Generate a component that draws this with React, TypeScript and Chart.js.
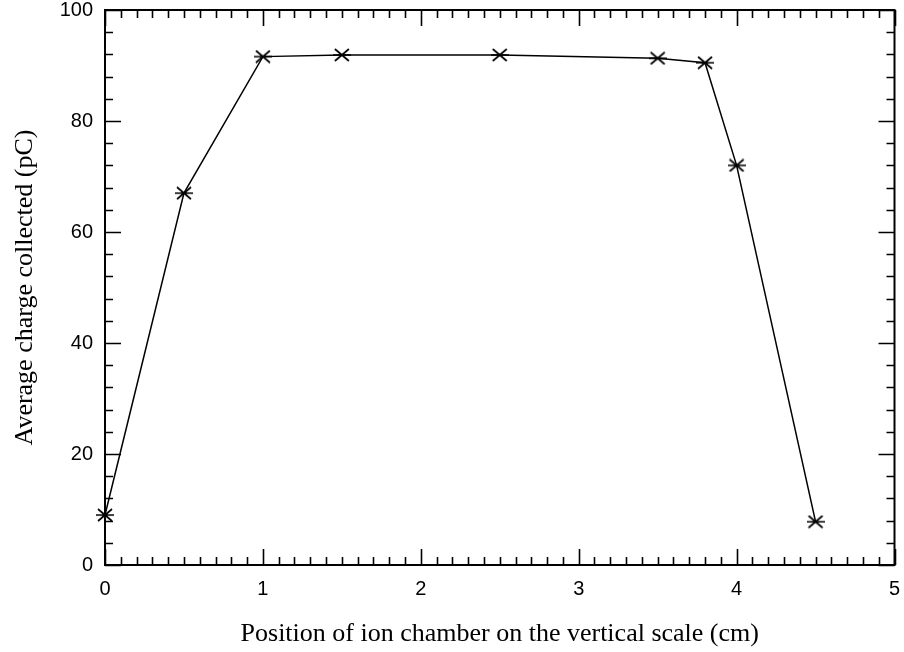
import React, { useEffect, useRef } from 'react';
import { Chart, registerables } from 'chart.js';

Chart.register(...registerables);

const positions = [0, 0.5, 1, 1.5, 2.5, 3.5, 3.8, 4, 4.5];
const charges = [9, 67, 91.6, 91.9, 91.9, 91.3, 90.5, 72, 7.8];
const xTickValues = [0, 1, 2, 3, 4, 5];
const yTickValues = [0, 20, 40, 60, 80, 100];
const xTitle = 'Position of ion chamber on the vertical scale (cm)';
const yTitle = 'Average charge collected (pC)';

function makeMarker(): HTMLCanvasElement {
  const c = document.createElement('canvas');
  c.width = 18;
  c.height = 14;
  const g = c.getContext('2d')!;
  g.strokeStyle = '#000';
  g.lineWidth = 1.7;
  g.beginPath();
  g.moveTo(2, 1); g.lineTo(16, 13);
  g.moveTo(16, 1); g.lineTo(2, 13);
  g.moveTo(0, 7); g.lineTo(18, 7);
  g.stroke();
  return c;
}

const frameTicks = {
  id: 'frameTicks',
  beforeDatasetsDraw(chart: any) {
    const { ctx, chartArea: a, scales } = chart;
    const x = scales.x;
    const y = scales.y;
    ctx.save();
    ctx.strokeStyle = '#000';
    ctx.lineWidth = 1.6;
    ctx.beginPath();
    for (let i = 0; i <= 50; i++) {
      const v = i / 10;
      const px = Math.round(x.getPixelForValue(v)) + 0.5;
      const len = i % 10 === 0 ? 16 : 8;
      ctx.moveTo(px, a.bottom); ctx.lineTo(px, a.bottom - len);
      ctx.moveTo(px, a.top); ctx.lineTo(px, a.top + len);
    }
    for (let i = 0; i <= 25; i++) {
      const v = i * 4;
      const py = Math.round(y.getPixelForValue(v)) + 0.5;
      const len = v % 20 === 0 ? 16 : 8;
      ctx.moveTo(a.left, py); ctx.lineTo(a.left + len, py);
      ctx.moveTo(a.right, py); ctx.lineTo(a.right - len, py);
    }
    ctx.stroke();
    ctx.lineWidth = 2;
    ctx.strokeRect(a.left, a.top, a.right - a.left, a.bottom - a.top);
    ctx.restore();
  },
  afterDraw(chart: any) {
    const { ctx, chartArea: a } = chart;
    ctx.save();
    ctx.fillStyle = '#000';
    ctx.textAlign = 'center';
    ctx.textBaseline = 'middle';
    ctx.font = '26px "Liberation Serif", "Times New Roman", serif';
    ctx.fillText(xTitle, (a.left + a.right) / 2, 634);
    ctx.translate(25, (a.top + a.bottom) / 2);
    ctx.rotate(-Math.PI / 2);
    ctx.fillText(yTitle, 0, 0);
    ctx.restore();
  },
};

export default function App() {
  const ref = useRef<HTMLCanvasElement>(null);
  useEffect(() => {
    if (!ref.current) return;
    const marker = makeMarker();
    const chart = new Chart(ref.current, {
      type: 'line',
      data: {
        datasets: [
          {
            data: positions.map((p, i) => ({ x: p, y: charges[i] })),
            borderColor: '#000',
            borderWidth: 1.5,
            pointStyle: marker as any,
            pointRadius: 8,
            tension: 0,
            fill: false,
            clip: false as any,
          },
        ],
      },
      options: {
        animation: false,
        responsive: false,
        layout: { padding: { top: 10, right: 6, left: 0, bottom: 0 } },
        plugins: { legend: { display: false }, tooltip: { enabled: false } },
        scales: {
          x: {
            type: 'linear',
            min: 0,
            max: 5,
            afterBuildTicks: (s: any) => { s.ticks = xTickValues.map((v) => ({ value: v })); },
            afterFit: (s: any) => { s.height = 87; s.paddingLeft = 0; s.paddingRight = 0; },
            grid: { display: false, drawTicks: false },
            border: { display: false },
            ticks: {
              color: '#000',
              padding: 12,
              font: { family: '"Liberation Sans", Arial, sans-serif', size: 20 },
              callback: (v: any) => String(v),
            },
            title: { display: false },
          },
          y: {
            type: 'linear',
            min: 0,
            max: 100,
            afterBuildTicks: (s: any) => { s.ticks = yTickValues.map((v) => ({ value: v })); },
            afterFit: (s: any) => { s.width = 105; s.paddingTop = 0; s.paddingBottom = 0; },
            grid: { display: false, drawTicks: false },
            border: { display: false },
            ticks: {
              color: '#000',
              padding: 12,
              font: { family: '"Liberation Sans", Arial, sans-serif', size: 20 },
              callback: (v: any) => String(v),
            },
            title: { display: false },
          },
        },
      },
      plugins: [frameTicks],
    });
    return () => chart.destroy();
  }, []);
  return (
    <div style={{ position: 'absolute', left: 0, top: 0, width: 904, height: 652, background: '#fff' }}>
      <canvas ref={ref} width={904} height={652} style={{ display: 'block' }} />
    </div>
  );
}
